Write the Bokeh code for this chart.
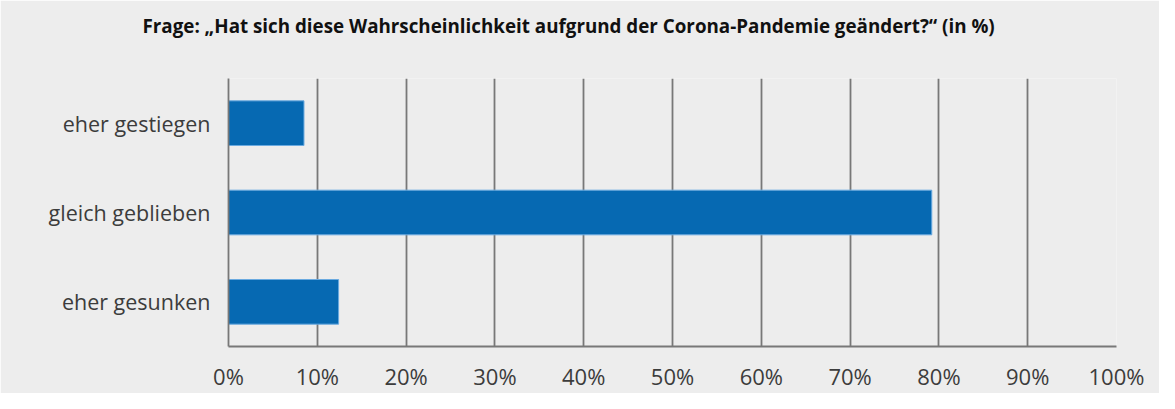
from bokeh.plotting import figure
from bokeh.models import FactorRange, Range1d, FixedTicker, CustomJSTickFormatter, Title
from bokeh.embed import file_html
from bokeh.resources import INLINE

categories = ["eher gestiegen", "gleich geblieben", "eher gesunken"]
values = [8.5, 79.2, 12.4]
ticks = [0, 10, 20, 30, 40, 50, 60, 70, 80, 90, 100]
title_text = "Frage: \u201eHat sich diese Wahrscheinlichkeit aufgrund der Corona-Pandemie ge\u00e4ndert?\u201c (in %)"

BG = "#ededed"
GRID = "#787878"
FONT = "Open Sans"

p = figure(width=1159, height=393, output_backend="svg", toolbar_location=None,
           y_range=FactorRange(factors=list(reversed(categories)), range_padding=0),
           x_range=Range1d(0, 100),
           min_border_left=228, min_border_right=43, min_border_top=78, min_border_bottom=44)
p.background_fill_color = BG
p.border_fill_color = BG
p.outline_line_color = None

p.title.text = title_text
p.title.align = "left"
p.title.offset = -86
p.title.vertical_align = "top"
p.title.text_font = FONT
p.title.text_font_style = "bold"
p.title.text_font_size = "18.8px"
p.title.text_color = "#111111"
p.title.standoff = 24

# empty spacer between title and plotting area
spacer = Title(text=" ", text_font_size="1px", standoff=23)
p.add_layout(spacer, "above")

p.hbar(y=categories, right=values, left=0, height=0.5,
       fill_color="#0669b2", line_color="#6aaae0", line_width=1)

p.xaxis.ticker = FixedTicker(ticks=ticks)
p.xaxis.formatter = CustomJSTickFormatter(code="return tick + '%';")
p.xaxis.major_tick_line_color = None
p.xaxis.minor_tick_line_color = None
p.xaxis.axis_line_color = GRID
p.xaxis.axis_line_width = 1.8
p.xaxis.major_label_text_font = FONT
p.xaxis.major_label_text_font_size = "22px"
p.xaxis.major_label_text_color = "#3c3c3c"
p.xaxis.major_label_standoff = 8

p.yaxis.major_tick_line_color = None
p.yaxis.axis_line_color = GRID
p.yaxis.axis_line_width = 1.8
p.yaxis.major_label_text_font = FONT
p.yaxis.major_label_text_font_size = "21.5px"
p.yaxis.major_label_text_color = "#3c3c3c"
p.yaxis.major_label_standoff = 12

p.xgrid.grid_line_color = GRID
p.xgrid.grid_line_width = 1.8
p.ygrid.grid_line_color = None

open("out.html", "w").write(file_html(p, INLINE))
